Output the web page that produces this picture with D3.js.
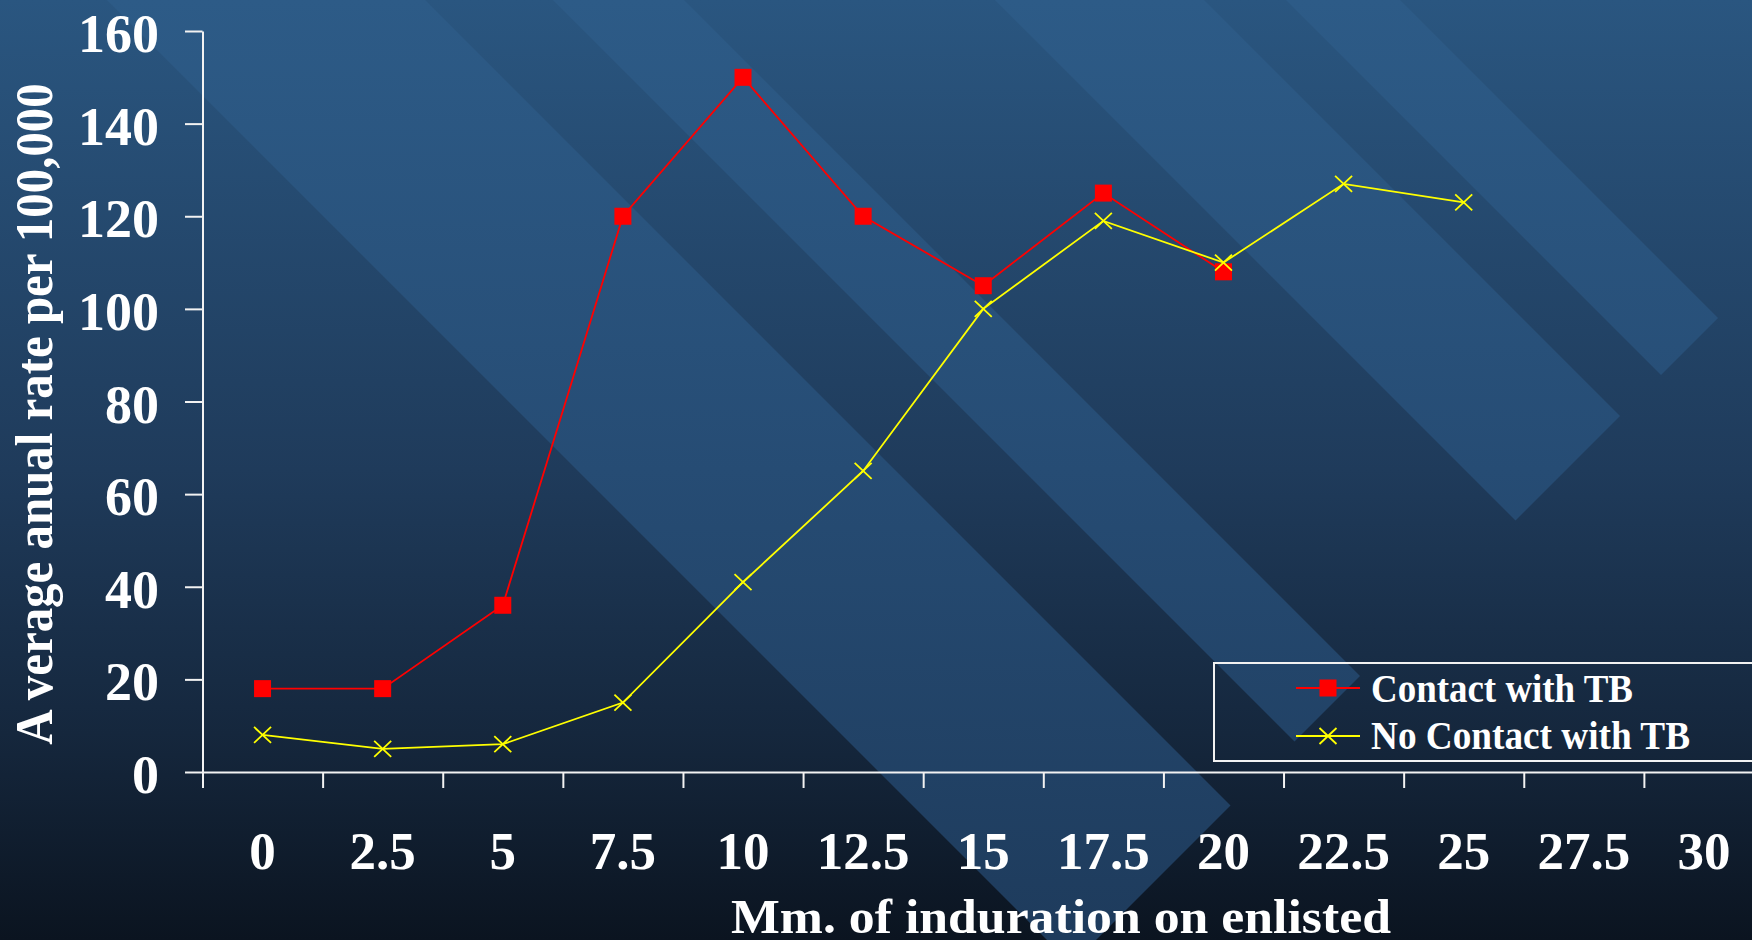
<!DOCTYPE html>
<html>
<head>
<meta charset="utf-8">
<script src="https://cdn.jsdelivr.net/npm/d3@7"></script>
<style>
  html, body { margin: 0; padding: 0; background: #0b1420; }
  svg { display: block; }
  text { font-family: "Liberation Serif", "Times New Roman", serif; font-weight: bold; fill: #ffffff; }
</style>
</head>
<body>
<svg id="chart" width="1752" height="940"></svg>
<script>
// ---- data ----
const categories = ["0", "2.5", "5", "7.5", "10", "12.5", "15", "17.5", "20", "22.5", "25", "27.5", "30"];
const contactValues = [18, 18, 36, 120, 150, 120, 105, 125, 108];
const noContactValues = [8, 5, 6, 15, 41, 65, 100, 119, 110, 127, 123];
const yTickValues = [0, 20, 40, 60, 80, 100, 120, 140, 160];
const seriesNames = ["Contact with TB", "No Contact with TB"];
const xTitle = "Mm. of induration on enlisted";
const yTitle = "Average anual rate per 100,000";

// ---- layout ----
const W = 1752, H = 940;
const svg = d3.select("#chart");
const defs = svg.append("defs");

function vGradient(id, stops) {
  const g = defs.append("linearGradient").attr("id", id)
    .attr("gradientUnits", "userSpaceOnUse")
    .attr("x1", 0).attr("y1", 0).attr("x2", 0).attr("y2", H);
  stops.forEach(([o, c]) => g.append("stop").attr("offset", o).attr("stop-color", c));
}
vGradient("bgGrad", [[0, "#2a5680"], [0.5, "#1f3b5b"], [0.78, "#15273d"], [1, "#0b1420"]]);
vGradient("bandGrad", [[0, "#2d5b87"], [0.5, "#264c74"], [1, "#1e3b5c"]]);

// slide background
svg.append("rect").attr("width", W).attr("height", H).attr("fill", "url(#bgGrad)");

// decorative 45° bands, each cut square along the line x + y = cutK
const bandEdges = [[107, 425], [553, 684], [995, 1204], [1286, 1400]];
const cutK = 2036;
svg.append("g").selectAll("polygon").data(bandEdges).join("polygon")
  .attr("fill", "url(#bandGrad)")
  .attr("points", ([c1, c2]) => [
    [c1 - 40, -40], [c2 - 40, -40],
    [(cutK + c2) / 2, (cutK - c2) / 2], [(cutK + c1) / 2, (cutK - c1) / 2]
  ].map(p => p.join(",")).join(" "));

// ---- scales ----
const x0 = 202.5, x1 = 1764, yBase = 772, yTop = 31;
const x = d3.scaleBand().domain(categories).range([x0, x1]).padding(0);
const xEdge = d3.scaleLinear().domain([0, categories.length]).range([x0, x1]);
const y = d3.scaleLinear().domain([0, 160]).range([yBase, yTop]);
const cx = (i) => x(categories[i]) + x.bandwidth() / 2;

// ---- axes ----
const axisColor = "#f2f2f2";
const yAxis = svg.append("g").attr("transform", `translate(${x0},0)`)
  .call(d3.axisLeft(y).tickValues(yTickValues).tickSize(17.5).tickSizeOuter(0).tickPadding(26));
yAxis.selectAll("text").attr("font-size", 54).attr("dy", "0.38em")
  .style("font-family", "'Liberation Serif', serif").style("font-weight", "bold").attr("fill", "#fff");

const xEdgeAxis = svg.append("g").attr("transform", `translate(0,${yBase})`)
  .call(d3.axisBottom(xEdge).tickValues(d3.range(categories.length + 1)).tickFormat("").tickSize(16).tickSizeOuter(0));

const xLabelAxis = svg.append("g").attr("transform", `translate(0,${yBase})`)
  .call(d3.axisBottom(x).tickSize(0).tickPadding(59));
xLabelAxis.select(".domain").remove();
xLabelAxis.selectAll("text").attr("font-size", 53)
  .style("font-family", "'Liberation Serif', serif").style("font-weight", "bold").attr("fill", "#fff");

[yAxis, xEdgeAxis].forEach(g => {
  g.selectAll(".domain, .tick line").attr("stroke", axisColor).attr("stroke-width", 2);
});

// ---- series ----
const line = d3.line().x((d, i) => cx(i)).y(d => y(d));

svg.append("path").datum(contactValues).attr("d", line)
  .attr("fill", "none").attr("stroke", "#ff0000").attr("stroke-width", 1.8);
svg.append("path").datum(noContactValues).attr("d", line)
  .attr("fill", "none").attr("stroke", "#ffff00").attr("stroke-width", 1.8);

const sq = 17;
svg.append("g").selectAll("rect").data(contactValues).join("rect")
  .attr("x", (d, i) => cx(i) - sq / 2).attr("y", d => y(d) - sq / 2)
  .attr("width", sq).attr("height", sq).attr("fill", "#ff0000");

const crossPath = "M-8.5,-8L8.5,8M-8.5,8L8.5,-8";
svg.append("g").selectAll("path").data(noContactValues).join("path")
  .attr("transform", (d, i) => `translate(${cx(i)},${y(d)})`)
  .attr("d", crossPath).attr("fill", "none").attr("stroke", "#ffff00").attr("stroke-width", 1.8);

// ---- legend ----
const legend = svg.append("g");
legend.append("rect").attr("x", 1214).attr("y", 663).attr("width", 620).attr("height", 98)
  .attr("fill", "none").attr("stroke", "#f2f2f2").attr("stroke-width", 2);
const legendRows = [
  { name: seriesNames[0], color: "#ff0000", y: 688, base: 701.5, len: 262, mark: "square" },
  { name: seriesNames[1], color: "#ffff00", y: 736, base: 749, len: 319, mark: "cross" }
];
legendRows.forEach(r => {
  legend.append("line").attr("x1", 1296).attr("x2", 1360).attr("y1", r.y).attr("y2", r.y)
    .attr("stroke", r.color).attr("stroke-width", 2);
  if (r.mark === "square") {
    legend.append("rect").attr("x", 1328 - sq / 2).attr("y", r.y - sq / 2)
      .attr("width", sq).attr("height", sq).attr("fill", r.color);
  } else {
    legend.append("path").attr("transform", `translate(1328,${r.y})`).attr("d", crossPath)
      .attr("fill", "none").attr("stroke", r.color).attr("stroke-width", 1.8);
  }
  legend.append("text").attr("x", 1371).attr("y", r.base).attr("font-size", 40)
    .attr("textLength", r.len).attr("lengthAdjust", "spacingAndGlyphs").text(r.name);
});

// ---- axis titles ----
svg.append("text").attr("x", 731).attr("y", 933).attr("font-size", 48)
  .attr("textLength", 660).attr("lengthAdjust", "spacingAndGlyphs").text(xTitle);

const yTitleG = svg.append("g").attr("transform", "translate(52,414) rotate(-90)");
const yTitleText = yTitleG.append("text").attr("text-anchor", "middle").attr("font-size", 53);
yTitleText.append("tspan").text(yTitle.slice(0, 1));
yTitleText.append("tspan").attr("dx", 10).text(yTitle.slice(1));
const yLen = yTitleText.node().getBBox().width;
yTitleText.attr("transform", `scale(${658 / yLen},1)`);
</script>
</body>
</html>
